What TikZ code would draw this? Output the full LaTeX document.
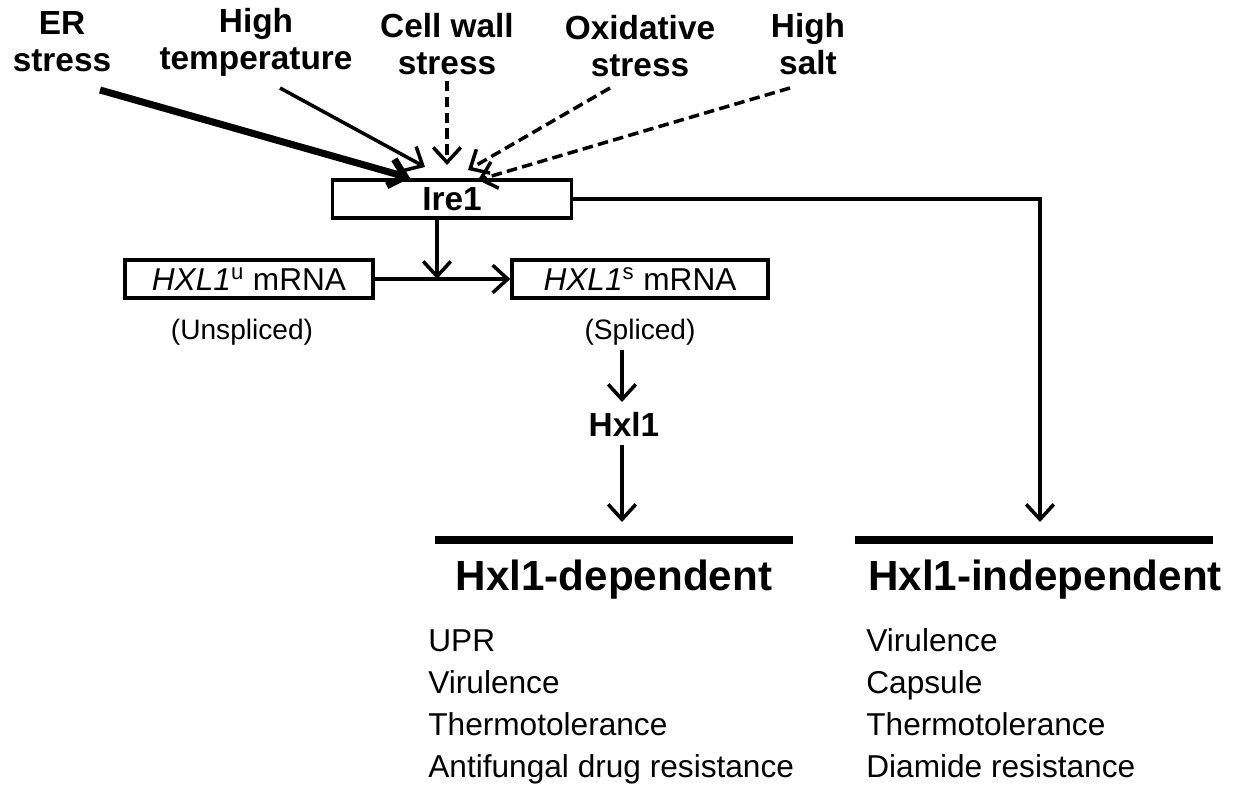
\documentclass[tikz,border=0pt]{standalone}
\usepackage{fontspec}
\setmainfont{Liberation Sans}
\usetikzlibrary{arrows.meta, positioning}
\tikzset{
  stim/.style={font=\fontsize{19}{21}\selectfont\bfseries, align=center},
  box/.style={draw, line width=2pt, minimum height=0.76cm, font=\fontsize{18}{19}\selectfont},
  arr/.style={line width=2pt, -{Straight Barb[length=3mm,width=5.5mm]}},
  dasharr/.style={arr, dash pattern=on 6pt off 3pt},
  head/.style={font=\fontsize{24}{26}\selectfont\bfseries},
  item/.style={font=\fontsize{18}{19}\selectfont, anchor=base west, inner sep=0pt}
}
\begin{document}
\begin{tikzpicture}[x=0.02cm, y=-0.02cm]
  \useasboundingbox (0,0) rectangle (1245,800);
  % stimuli
  \node[stim] (er) at (62,42) {ER\\stress};
  \node[stim] (temp) at (256,42) {High\\temperature};
  \node[stim] (wall) at (447,44) {Cell wall\\stress};
  \node[stim] (oxi) at (640,46) {Oxidative\\stress};
  \node[stim] (salt) at (808,44) {High\\salt};
  % core
  \node[box, minimum width=4.78cm, font=\fontsize{19}{20}\selectfont\bfseries] (ire) at (452,199) {Ire1};
  \node[box, minimum width=4.96cm] (hu) at (249,279) {\textit{HXL1}\textsuperscript{u} mRNA};
  \node[box, minimum width=5.12cm] (hs) at (640,279) {\textit{HXL1}\textsuperscript{s} mRNA};
  \node[font=\fontsize{16}{17}\selectfont] (uns) at (242,332) {(Unspliced)};
  \node[font=\fontsize{16}{17}\selectfont] (spl) at (640,332) {(Spliced)};
  \node[stim] (hxl) at (624,424) {Hxl1};
  \coordinate (mid) at (437,279);
  % stimulus arrows
  \draw[arr, line width=4pt] (100,90) -- (410,178);
  \draw[arr] (280,88) -- (425,167);
  \draw[dasharr] (wall.south) -- (447,165);
  \draw[dasharr] (610,88) -- (468,170);
  \draw[dasharr] (790,88) -- (478,180);
  % splicing
  \draw[arr] (ire.south -| mid) -- (mid);
  \draw[line width=2pt, -{Straight Barb[length=3mm,width=5.5mm]}] (hu) -- (hs);
  \draw[arr] (622,350) -- (622,402);
  \draw[arr] (622,445) -- (622,522);
  % outputs
  \draw[line width=4pt] (435,540) -- (793,540);
  \draw[line width=4pt] (855,540) -- (1213,540);
  \draw[arr] (ire.east) -- (1040,199) -- (1040,522);
  \node[head] (dep) at (614,580) {Hxl1-dependent};
  \node[head] (ind) at (1045,580) {Hxl1-independent};
  \foreach \t [count=\i] in {UPR, Virulence, Thermotolerance, Antifungal drug resistance}
    \node[item] at (428,{609+42*\i}) {\t};
  \foreach \t [count=\i] in {Virulence, Capsule, Thermotolerance, Diamide resistance}
    \node[item] at (866,{609+42*\i}) {\t};
\end{tikzpicture}
\end{document}
